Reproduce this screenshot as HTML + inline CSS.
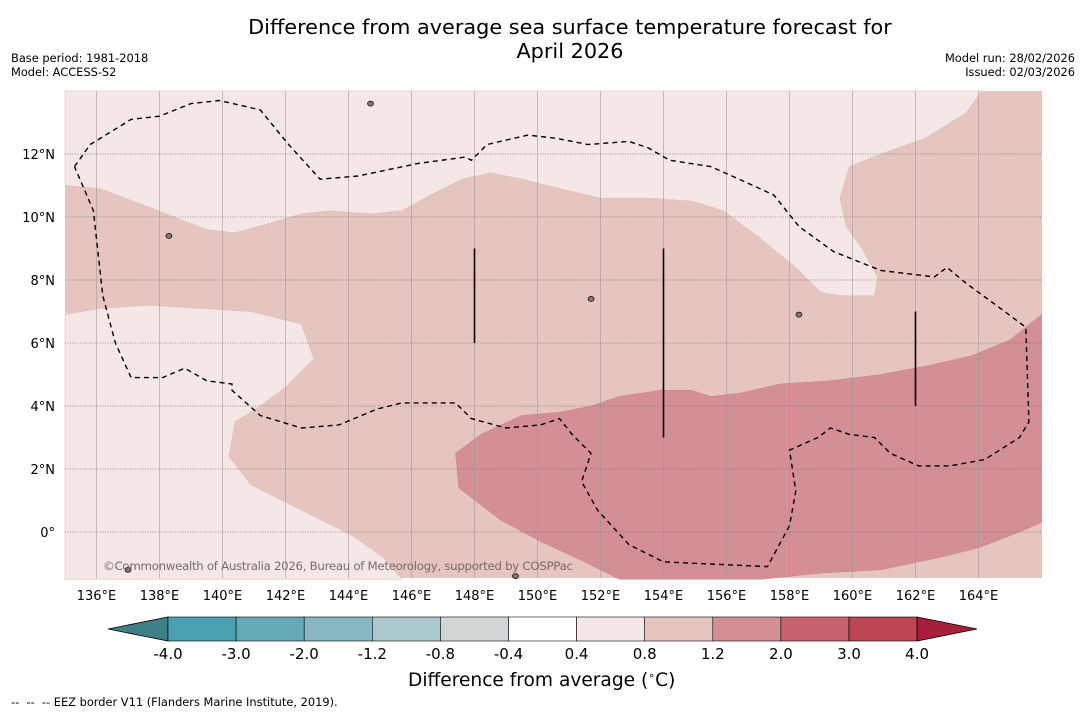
<!DOCTYPE html>
<html><head><meta charset="utf-8">
<style>
body{margin:0;background:#fff;font-family:"DejaVu Sans","Liberation Sans",sans-serif;}
#wrap{position:relative;width:1085px;height:713px;overflow:hidden;background:#fff}
.t{position:absolute;white-space:nowrap}
</style></head><body>
<div id="wrap">
<div class="t" style="left:0;width:1140px;text-align:center;top:15px;font-size:20.8px;line-height:24px">Difference from average sea surface temperature forecast for<br>April 2026</div>
<div class="t" style="left:11px;top:51px;font-size:11.4px;line-height:14px">Base period: 1981-2018<br>Model: ACCESS-S2</div>
<div class="t" style="right:10px;top:51px;font-size:11.4px;line-height:14px;text-align:right">Model run: 28/02/2026<br>Issued: 02/03/2026</div>
<svg id="svg" width="1085" height="713" style="position:absolute;left:0;top:0"></svg>
<div class="t" style="left:408px;top:669px;font-size:18.6px">Difference from average (<sup style="font-size:11px">∘</sup>C)</div>
<div class="t" style="left:11px;top:695px;font-size:11.4px">-- &nbsp;-- &nbsp;-- EEZ border V11 (Flanders Marine Institute, 2019).</div>
</div>
<script>
const lonTicks=[136,138,140,142,144,146,148,150,152,154,156,158,160,162,164];
const latTicks=[0,2,4,6,8,10,12];
const cbLabels=["-4.0","-3.0","-2.0","-1.2","-0.8","-0.4","0.4","0.8","1.2","2.0","3.0","4.0"];
const cbColors=["#49a0b0","#66aab8","#88b6c1","#abc9cd","#d0d6d6","#ffffff","#f4e7e6","#e6c5c1","#d48f96","#c8636f","#bd4655"];
const lightTop=[[135,11.0],[136.1,10.9],[137.7,10.3],[139.5,9.6],[140.4,9.5],[141.5,9.8],[142.5,10.1],[143.4,10.2],[144.7,10.1],[145.7,10.2],[146.6,10.7],[147.6,11.2],[148.5,11.4],[149.5,11.2],[150.7,10.9],[152,10.6],[153.6,10.6],[154.9,10.5],[155.9,10.2],[157.1,9.3],[158.2,8.4],[159,7.6],[159.7,7.5],[160.7,7.5],[160.8,8.1],[160.3,9.0],[159.8,9.7],[159.6,10.6],[159.9,11.6],[160.9,12.0],[162.3,12.5],[163.6,13.3],[164.1,14],[135,14]];
const lightLeft=[[135,6.9],[136.1,7.1],[137.7,7.2],[139.3,7.1],[140.9,7.0],[142.5,6.6],[142.9,5.5],[142,4.6],[141.2,4.0],[140.4,3.5],[140.2,2.4],[140.9,1.5],[142.5,0.7],[144.1,-0.1],[145.1,-0.8],[145.7,-1.5],[135,-1.5]];
const dark=[[147.4,2.5],[148.2,3.1],[149.5,3.7],[150.7,3.8],[151.7,4.0],[152.6,4.3],[153.9,4.5],[154.9,4.5],[155.5,4.3],[156.4,4.4],[157.7,4.7],[159.3,4.8],[160.9,5.0],[162.5,5.3],[163.8,5.6],[165,6.1],[166,6.9],[166,0.3],[165.3,0.0],[164,-0.5],[162.8,-0.8],[160.9,-1.2],[159,-1.3],[157.1,-1.5],[156.1,-1.5],[152.6,-1.5],[151.4,-0.9],[150.1,-0.3],[148.8,0.4],[147.5,1.4]];
const eez=[[135.3,11.6],[135.8,12.3],[137.1,13.1],[138,13.2],[139,13.6],[139.9,13.7],[141.2,13.4],[142.1,12.3],[143.1,11.2],[144.3,11.3],[146.2,11.7],[147.7,11.9],[147.9,11.8],[148.4,12.3],[149.7,12.6],[150.6,12.5],[151.6,12.3],[152.9,12.4],[153.5,12.2],[154.2,11.8],[155.5,11.6],[156.4,11.2],[157.5,10.7],[158.3,9.7],[159.4,8.9],[160.9,8.3],[162.6,8.1],[163,8.4],[163.6,7.9],[164.7,7.1],[165.5,6.5],[165.6,3.5],[165.3,3.0],[164.2,2.3],[163.1,2.1],[162.1,2.1],[161.2,2.5],[160.7,3.0],[159.9,3.1],[159.3,3.3],[158.9,3.0],[158,2.6],[158.2,1.3],[158,0.2],[157.3,-1.1],[154,-0.95],[152.9,-0.4],[151.9,0.7],[151.4,1.6],[151.7,2.5],[151.1,3.1],[150.7,3.6],[150.1,3.4],[149,3.3],[147.9,3.6],[147.4,4.1],[145.7,4.1],[144.9,3.9],[143.7,3.4],[142.5,3.3],[141.2,3.7],[140.3,4.5],[140.3,4.7],[139.5,4.8],[138.8,5.2],[138.1,4.9],[137.1,4.9],[136.6,6.0],[136.2,7.5],[136,9.3],[135.9,10.2],[135.3,11.6]];
const bars=[[148,6,9],[154,3,9],[162,4,7]];
const islands=[[144.7,13.6],[138.3,9.4],[151.7,7.4],[158.3,6.9],[149.3,-1.4],[137,-1.2]];

const NS='http://www.w3.org/2000/svg',svg=document.getElementById('svg');
const X=lon=>65+(lon-135)*31.5, Y=lat=>91+(14-lat)*31.5;
function mk(tag,attrs,parent){const e=document.createElementNS(NS,tag);for(const k in attrs)e.setAttribute(k,attrs[k]);(parent||svg).appendChild(e);return e;}
const pts=a=>a.map(p=>X(p[0]).toFixed(1)+','+Y(p[1]).toFixed(1)).join(' ');
const bg=mk('rect',{x:65,y:91,width:977,height:487,fill:'#e6c5c1'});


const p1=mk('polygon',{points:pts(lightTop),fill:'#f4e7e6',stroke:'#d9b9b5','stroke-width':0.5});


const p2=mk('polygon',{points:pts(lightLeft),fill:'#f4e7e6',stroke:'#d9b9b5','stroke-width':0.5});


const p3=mk('polygon',{points:pts(dark),fill:'#d48f96',stroke:'#c98088','stroke-width':0.5});


lonTicks.forEach(l=>{
 const g=mk('line',{x1:X(l),x2:X(l),y1:91,y2:578,stroke:'#999','stroke-width':0.8,'stroke-opacity':0.7});
 
 
 const t=mk('text',{x:X(l),y:600,'text-anchor':'middle','font-size':13,fill:'#000'});
 t.textContent=l+'°E';
 
 
});
latTicks.forEach(l=>{
 const g=mk('line',{x1:65,x2:1042,y1:Y(l),y2:Y(l),stroke:'#777','stroke-width':0.8,'stroke-dasharray':'1,1.5'});
 
 
 const t=mk('text',{x:55,y:Y(l)+5,'text-anchor':'end','font-size':13,fill:'#000'});
 t.textContent=l===0?'0°':l+'°N';
 
 
});
const e=mk('polyline',{points:pts(eez),fill:'none',stroke:'#000','stroke-width':1.4,'stroke-dasharray':'5,4'});


bars.forEach(b=>{
 const l=mk('line',{x1:X(b[0]),x2:X(b[0]),y1:Y(b[2]),y2:Y(b[1]),stroke:'#000','stroke-width':1.6});
 
 
});
islands.forEach(i=>{
 const c=mk('ellipse',{cx:X(i[0]),cy:Y(i[1]),rx:3,ry:2.5,fill:'#8a7575',stroke:'#000','stroke-width':0.7});
 
 
});
const cr=mk('text',{x:103,y:570,'font-size':11.8,fill:'#7a6a6a',textLength:470});
cr.textContent='©Commonwealth of Australia 2026, Bureau of Meteorology, supported by COSPPac';


// colorbar
const cx0=168,bw=68.1,cy=617,ch=24;
const la=mk('polygon',{points:`108,629 ${cx0},${cy} ${cx0},${cy+ch}`,fill:'#3d8088',stroke:'#000','stroke-width':0.8});


cbColors.forEach((c,i)=>{
 const r=mk('rect',{x:cx0+i*bw,y:cy,width:bw,height:ch,fill:c,stroke:'#000','stroke-width':0.6});
 
 
});
const xe=cx0+cbColors.length*bw;
const ra=mk('polygon',{points:`${xe},${cy} 977,629 ${xe},${cy+ch}`,fill:'#a71f3b',stroke:'#000','stroke-width':0.8});


cbLabels.forEach((s,i)=>{
 const t=mk('text',{x:cx0+i*bw,y:659,'text-anchor':'middle','font-size':15,fill:'#000'});
 t.textContent=s;
 
 
});
</script>
</body></html>
